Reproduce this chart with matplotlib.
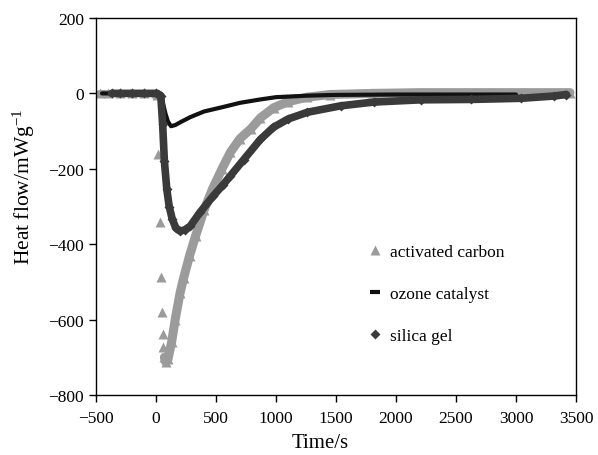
import matplotlib
matplotlib.use("Agg")
import matplotlib.pyplot as plt
from matplotlib.lines import Line2D

plt.rcParams['font.family'] = ['Liberation Serif', 'DejaVu Serif']
plt.rcParams['mathtext.fontset'] = 'custom'
plt.rcParams['mathtext.rm'] = 'Liberation Serif'
plt.rcParams['mathtext.it'] = 'Liberation Serif:italic'

# ---- data (time in s, heat flow in mW/g) ----
ac_t = [-470, -400, -300, -200, -100, 0, 10,
        20, 30, 40, 50, 55, 60,
        70, 80, 100, 130, 160, 200, 230, 280, 330, 400, 470, 550, 620,
        700, 790, 870, 980, 1100, 1260, 1450, 1800, 2200, 2600, 3000, 3450]
ac_q = [0, 0, 0, 0, 0, 0, -5,
        -161, -341, -487, -580, -638, -673,
        -700, -712, -705, -660, -600, -530, -490, -430, -378, -310, -254, -200, -156,
        -120, -94, -65, -38, -22, -10, -3, 0, 2, 2, 2, 2]
ac_gap = (7, 13)   # sparse points during the fast drop, markers only

oz_t = [-450, -300, -200, -100, 0, 20, 50, 80, 100, 125, 160, 200, 285, 400,
        560, 700, 870, 1000, 1260, 1500, 2000, 2500, 3000]
oz_q = [0, 0, 0, 0, 0, -3, -15, -55, -75, -87, -84, -77, -63, -48,
        -36, -25, -16, -10, -6, -4, -3, -3, -3]

sg_t = [-370, -300, -200, -100, 0, 20, 40, 55, 70, 90, 110, 135, 165, 200,
        240, 285, 368, 477, 560, 619, 730, 870, 978, 1100, 1262, 1538, 1813,
        2206, 2623, 3041, 3316, 3420]
sg_q = [0, 0, 0, 0, 0, -2, -6, -80, -180, -254, -300, -333, -357, -365,
        -362, -352, -315, -272, -242, -219, -176, -122, -90, -68, -50, -33, -23,
        -17, -16, -13, -7, -3]

labels = ['activated carbon', 'ozone catalyst', 'silica gel']
c_ac, c_oz, c_sg = '#9b9b9b', '#111111', '#3a3a3a'

fig = plt.figure(figsize=(5.98, 4.56), dpi=100)
ax = fig.add_axes([96 / 598, 1 - 396 / 456, 480 / 598, 377 / 456])

# activated carbon: band + markers
a, b = ac_gap
ax.plot(ac_t[:a], ac_q[:a], color=c_ac, lw=5, solid_capstyle='round', zorder=1)
ax.plot(ac_t[b:], ac_q[b:], color=c_ac, lw=6.5, solid_capstyle='round', zorder=1)
ax.plot(ac_t, ac_q, ls='none', marker='^', ms=7, color=c_ac, mec='none', zorder=1)

# ozone catalyst
ax.plot(oz_t, oz_q, color=c_oz, lw=3, solid_capstyle='round', zorder=2)

# silica gel
ax.plot(sg_t, sg_q, color=c_sg, lw=5.5, solid_capstyle='round', zorder=3)
ax.plot(sg_t, sg_q, ls='none', marker='D', ms=5, color=c_sg, mec='none', zorder=3)

ax.set_xlim(-500, 3500)
ax.set_ylim(-800, 200)
ax.set_xticks(range(-500, 3501, 500))
ax.set_yticks(range(-800, 201, 200))
ax.tick_params(direction='out', length=5, width=1, labelsize=12.5, top=False, right=False)
ax.tick_params(axis='x', pad=6)
for s in ax.spines.values():
    s.set_linewidth(1.0)

ax.set_xlabel('Time/s', fontsize=15)
ax.set_ylabel('Heat flow/mWg$^{-1}$', fontsize=15.5)
ax.xaxis.set_label_coords(0.467, -0.1)
ax.yaxis.set_label_coords(-0.123, 0.554)

handles = [Line2D([], [], ls='none', marker='^', ms=7, color=c_ac, mec='none'),
           Line2D([], [], ls='none', marker='_', ms=7, mew=3, color=c_oz),
           Line2D([], [], ls='none', marker='D', ms=5, color=c_sg, mec='none')]
ax.legend(handles, labels, loc='upper left', frameon=False, fontsize=12.5,
          bbox_to_anchor=(358 / 598, 1 - 236 / 456), bbox_transform=fig.transFigure,
          borderpad=0, labelspacing=1.5, handlelength=1.0, handletextpad=0.35)

fig.savefig('out.png', dpi=100)
